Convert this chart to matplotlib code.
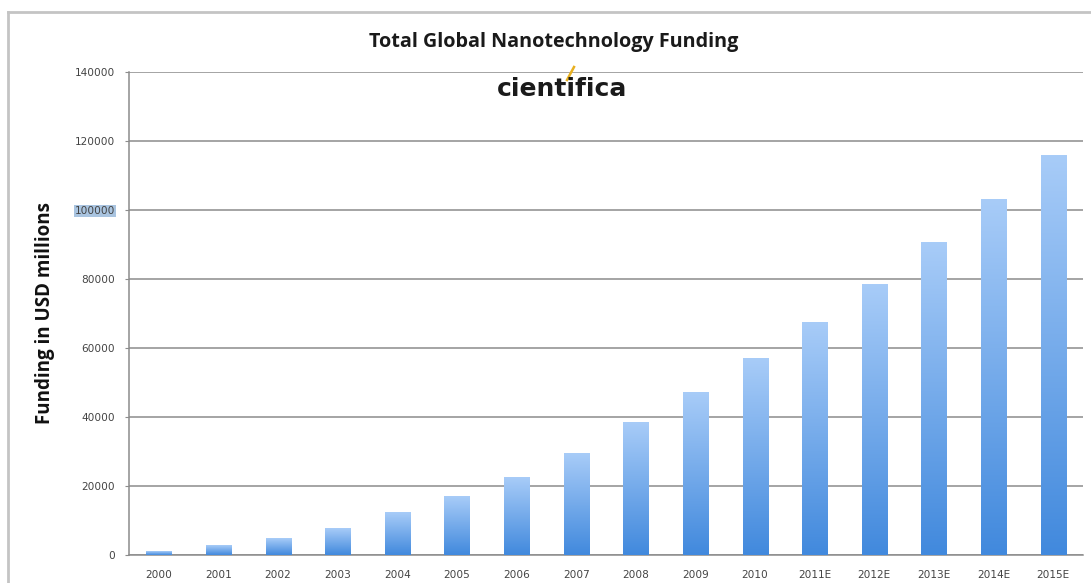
import numpy as np
import matplotlib.pyplot as plt
from matplotlib.colors import LinearSegmentedColormap
from matplotlib.lines import Line2D

years = ['2000', '2001', '2002', '2003', '2004', '2005', '2006', '2007',
         '2008', '2009', '2010', '2011E', '2012E', '2013E', '2014E', '2015E']
funding = [1000, 2700, 4800, 7600, 12200, 17100, 22600, 29300,
           38300, 47200, 57100, 67500, 78500, 90700, 102900, 115900]
yticks = [0, 20000, 40000, 60000, 80000, 100000, 120000, 140000]

fig = plt.figure(figsize=(10.91, 5.83), dpi=100)
fig.patch.set_facecolor('white')

# frame around the chart (only top and left edges are visible)
fig.add_artist(Line2D([8/1091, 8/1091], [0, 1 - 12/583], color='#c4c4c4', lw=2,
                      transform=fig.transFigure))
fig.add_artist(Line2D([8/1091, 1], [1 - 12/583, 1 - 12/583], color='#c4c4c4', lw=2,
                      transform=fig.transFigure))

ax = fig.add_axes([129/1091, 1 - 555/583, (1083 - 129)/1091, (555 - 72)/583])

cmap = LinearSegmentedColormap.from_list('bargrad', ['#4189dd', '#a8ccf8'])
grad = np.linspace(0, 1, 256).reshape(-1, 1)
width = 0.42
x = np.arange(len(years))
bars = ax.bar(x, funding, width=width, color='none', zorder=3)
for b in bars:
    x0, y0 = b.get_x(), b.get_y()
    w, h = b.get_width(), b.get_height()
    ax.imshow(grad, cmap=cmap, origin='lower', aspect='auto',
              extent=[x0, x0 + w, y0, y0 + h], zorder=3)

ax.set_xlim(-0.5, len(years) - 0.5)
ax.set_ylim(0, 140000)
ax.set_yticks(yticks)
ax.set_yticklabels([str(v) for v in yticks])
ax.set_xticks(x)
ax.set_xticklabels(years)

ax.grid(axis='y', color='#8c8c8c', lw=1.1, zorder=1)
for s in ['top', 'right']:
    ax.spines[s].set_visible(False)
for s in ['left', 'bottom']:
    ax.spines[s].set_color('#8c8c8c')
    ax.spines[s].set_linewidth(1.1)

ax.tick_params(axis='y', length=3, color='#8c8c8c', labelsize=7.6,
               labelcolor='#444444', pad=7)
ax.tick_params(axis='x', length=0, labelsize=7.6, labelcolor='#444444', pad=11)
for lbl in ax.get_yticklabels() + ax.get_xticklabels():
    lbl.set_fontfamily('DejaVu Sans')

# highlighted tick label
for lbl in ax.get_yticklabels():
    if lbl.get_text() == '100000':
        lbl.set_bbox(dict(facecolor='#a9c4e0', edgecolor='none', pad=0.5))

ax.set_ylabel('Funding in USD millions', fontsize=13.5, fontweight='bold',
              fontfamily='Open Sans', color='#111111', labelpad=14)

fig.text(554/1091, 1 - 42/583, 'Total Global Nanotechnology Funding',
         ha='center', va='center', fontsize=14.2, fontweight='bold',
         fontfamily='Open Sans', color='#1a1a1a')
fig.text(562/1091, 1 - 89/583, 'cientifica', ha='center', va='center',
         fontsize=18, fontweight='bold', fontfamily='DejaVu Sans', color='#1a1a1a')
fig.add_artist(Line2D([567/1091, 574/1091], [1 - 80/583, 1 - 67/583],
                      color='#e8b020', lw=1.8, transform=fig.transFigure))

fig.savefig('out.png', dpi=100, facecolor='white')
